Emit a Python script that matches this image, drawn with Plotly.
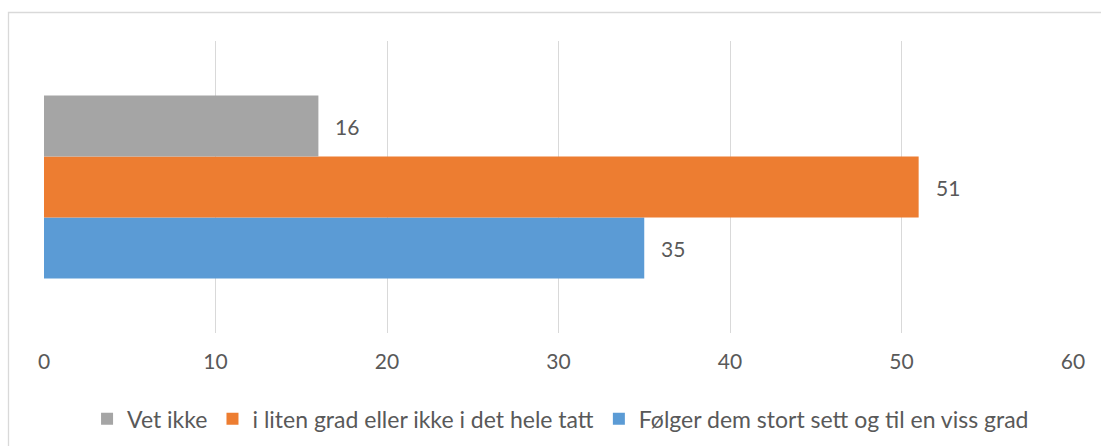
import plotly.graph_objects as go

category = ["Andel"]
series_names = ["Følger dem stort sett og til en viss grad",
                "i liten grad eller ikke i det hele tatt",
                "Vet ikke"]
values_folger = [35]
values_liten = [51]
values_vet = [16]
colors = ["#5B9BD5", "#ED7D31", "#A5A5A5"]
x_ticks = [0, 10, 20, 30, 40, 50, 60]

FONT = "Lato"
TXT = "#595959"
FS = 21

fig = go.Figure()
all_vals = [values_folger, values_liten, values_vet]
for name, vals, col in zip(series_names, all_vals, colors):
    fig.add_trace(go.Bar(
        y=category, x=vals, name=name, orientation="h",
        marker=dict(color=col, line=dict(width=0)),
    ))

# data labels
bar_px = 61
shifts = [-bar_px, 0, bar_px]
for vals, sh in zip(all_vals, shifts):
    fig.add_annotation(x=vals[0], y=category[0], text=str(vals[0]),
                       showarrow=False, xanchor="left", xshift=15, yshift=sh,
                       font=dict(family=FONT, size=FS, color=TXT))

W, H = 1101, 446
ml, mr, mt, mb = 44, 28, 41, 113
pw, ph = W - ml - mr, H - mt - mb
# outer chart border (left at x=8, top at y=12, right/bottom beyond the canvas)
fig.add_shape(type="rect", xref="paper", yref="paper",
              x0=(8.5 - ml) / pw, x1=(W + 5 - ml) / pw,
              y0=-(mb + 5) / ph, y1=1 + (mt - 12.5) / ph,
              line=dict(color="#D9D9D9", width=1.3), layer="below")

fig.update_layout(
    width=W, height=H,
    margin=dict(l=ml, r=mr, t=mt, b=mb, autoexpand=False),
    paper_bgcolor="white", plot_bgcolor="white",
    barmode="group", bargap=0.373, bargroupgap=0,
    font=dict(family=FONT, size=FS, color=TXT),
    showlegend=True,
    legend=dict(orientation="h", x=0.502, xanchor="center", y=-0.22, yanchor="top",
                traceorder="reversed", font=dict(family=FONT, size=23, color=TXT),
                itemwidth=30),
    xaxis=dict(range=[0, 60], tickvals=x_ticks, showgrid=True, gridcolor="#D9D9D9",
               gridwidth=1.3, zeroline=False, showline=False, ticks="",
               automargin=False,
               tickfont=dict(family=FONT, size=FS, color=TXT), ticklabelstandoff=14),
    yaxis=dict(showticklabels=False, showgrid=False, zeroline=False, showline=False,
               automargin=False),
)
fig.write_html("out.html", config={"displayModeBar": False},
               post_script="document.body.style.margin='0';document.body.style.padding='0';")
